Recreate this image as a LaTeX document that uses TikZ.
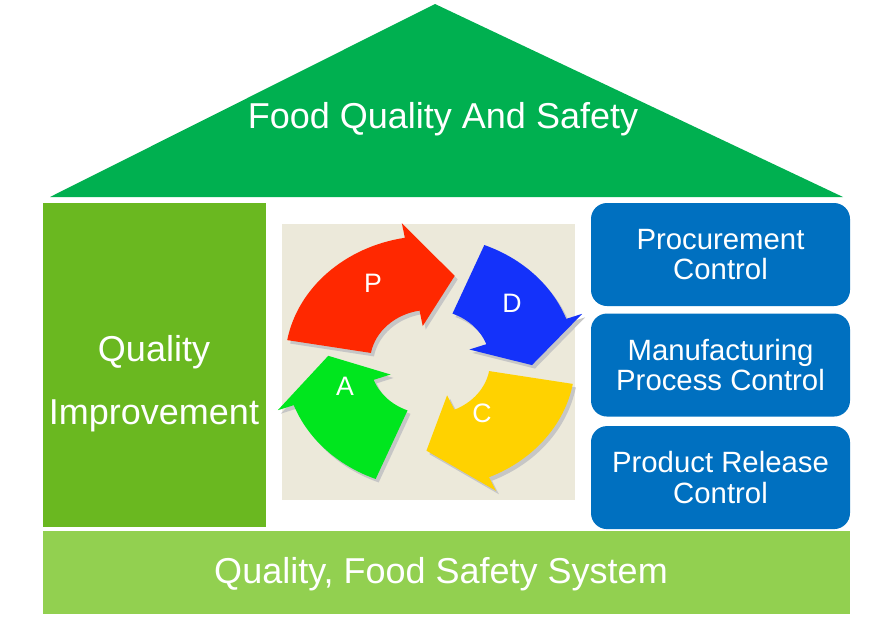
\documentclass[tikz,border=0pt]{standalone}
\usepackage{fontspec}
\setmainfont{Liberation Sans}
\usetikzlibrary{positioning}
\definecolor{roofgreen}{RGB}{0,176,80}
\definecolor{wallgreen}{RGB}{106,184,32}
\definecolor{basegreen}{RGB}{146,208,80}
\definecolor{boxblue}{RGB}{0,112,192}
\definecolor{pdcabg}{RGB}{236,233,218}
\definecolor{pred}{RGB}{255,40,0}
\definecolor{dblue}{RGB}{20,50,250}
\definecolor{cyellow}{RGB}{255,210,0}
\definecolor{agreen}{RGB}{0,230,30}
\newcommand{\pdcaarrow}[4]{% colour, start, end, tip
  \fill[gray!45, shift={(3,-4)}] (#2:145) arc[start angle=#2, end angle=#3, radius=145] -- (#3:162) -- (#4:102) -- (#3:42) -- (#3:60) arc[start angle=#3, end angle=#2, radius=60] -- cycle;
  \fill[#1] (#2:145) arc[start angle=#2, end angle=#3, radius=145] -- (#3:162) -- (#4:102) -- (#3:42) -- (#3:60) arc[start angle=#3, end angle=#2, radius=60] -- cycle;
}
\begin{document}
\begin{tikzpicture}[x=0.75pt, y=-0.75pt,
    wtext/.style={text=white, align=center, inner sep=0pt},
    ctrlbox/.style={fill=boxblue, rounded corners=12pt, minimum width=259*0.75pt, minimum height=103*0.75pt, wtext, font=\fontsize{22}{23}\selectfont}]
    \useasboundingbox (0,0) rectangle (870,629);
    % Roof
    \fill[roofgreen] (50,197) -- (435,4) -- (843,197) -- cycle;
    \node[wtext, font=\fontsize{27}{30}\selectfont] (roof) at (443,119) {Food Quality And Safety};
    % Left wall
    \fill[wallgreen] (43,203) rectangle (266,527);
    \node[wtext, font=\fontsize{27}{47}\selectfont] (improve) at (154,384) {Quality\\Improvement};
    % Base
    \fill[basegreen] (43,531) rectangle (850,614);
    \node[wtext, font=\fontsize{27}{30}\selectfont] (base) at (441,574) {Quality, Food Safety System};
    % Control boxes
    \node[ctrlbox] (procure) at (720.5,254.5) {Procurement\\Control};
    \node[ctrlbox, below=7*0.75pt of procure] (manufacture) {Manufacturing\\Process Control};
    \node[ctrlbox, below=9*0.75pt of manufacture] (release) {Product Release\\Control};
    % PDCA cycle
    \fill[pdcabg] (282,224) rectangle (575,500);
    \begin{scope}[shift={(430,362)}, yscale=-0.87]
      \pdcaarrow{pred}{170}{100}{76}
      \pdcaarrow{dblue}{68}{20}{-2}
      \pdcaarrow{cyellow}{-10}{-66}{-92}
      \pdcaarrow{agreen}{-112}{-160}{-184}
    \end{scope}
    \node[wtext, font=\fontsize{20}{22}\selectfont] (plan) at (373,283) {P};
    \node[wtext, font=\fontsize{20}{22}\selectfont] (do) at (512,303) {D};
    \node[wtext, font=\fontsize{20}{22}\selectfont] (check) at (482,413) {C};
    \node[wtext, font=\fontsize{20}{22}\selectfont] (act) at (345,386) {A};
\end{tikzpicture}
\end{document}
